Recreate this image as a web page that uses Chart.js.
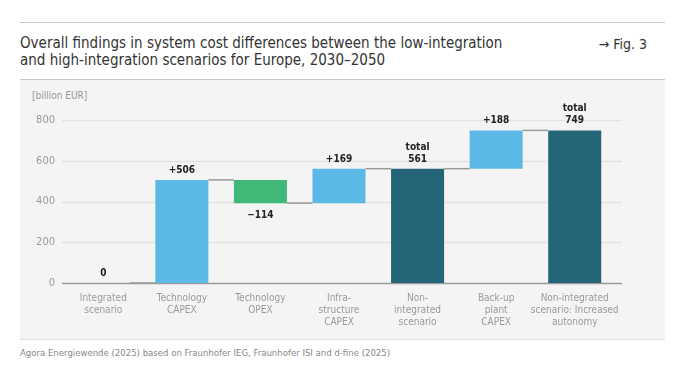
<!DOCTYPE html>
<html><head><meta charset="utf-8">
<script src="https://cdn.jsdelivr.net/npm/chart.js@4/dist/chart.umd.min.js"></script>
<style>
html,body{margin:0;padding:0;background:#fff;width:678px;height:381px;overflow:hidden;}
body{position:relative;font-family:'DejaVu Sans Condensed','Liberation Sans Narrow',sans-serif;}
.rule{position:absolute;left:20px;width:645px;height:1px;background:#c8c8c8;}
#panel{position:absolute;left:20px;top:80px;width:645px;height:259px;background:#f4f4f4;}
#title{position:absolute;left:20px;top:35px;font-size:15px;line-height:17px;color:#333;}
#fig{position:absolute;right:31px;top:36px;font-size:14px;line-height:17px;color:#333;}
#unit{position:absolute;left:32px;top:90px;font-size:10px;color:#999;}
#src{position:absolute;left:20px;top:347px;font-size:9.5px;color:#888;}
canvas{position:absolute;left:0;top:0;}
</style></head>
<body>
<div class="rule" style="top:22px"></div>
<div class="rule" style="top:79px"></div>
<div id="panel"></div>
<div class="rule" style="top:339px;background:#e0e0e0"></div>
<div id="title">Overall findings in system cost differences between the low-integration<br>and high-integration scenarios for Europe, 2030–2050</div>
<div id="fig">→ Fig. 3</div>
<div id="unit">[billion EUR]</div>
<div id="src">Agora Energiewende (2025) based on Fraunhofer IEG, Fraunhofer ISI and d-fine (2025)</div>
<canvas id="c" width="678" height="381"></canvas>
<script>
const categories = [
  ["Integrated","scenario"],
  ["Technology","CAPEX"],
  ["Technology","OPEX"],
  ["Infra-","structure","CAPEX"],
  ["Non-","integrated","scenario"],
  ["Back-up","plant","CAPEX"],
  ["Non-integrated","scenario: Increased","autonomy"]
];
const kinds = ["total","delta","delta","delta","total","delta","total"];
const values = [0, 506, -114, 169, 561, 188, 749];
const yTicks = [0, 200, 400, 600, 800];

const FONT = "'DejaVu Sans Condensed','Liberation Sans Narrow',sans-serif";
const COL_UP = "#5cb8e6", COL_DOWN = "#3fb878", COL_TOTAL = "#246677";

let running = 0;
const ranges = [], colors = [], labels = [], ends = [];
values.forEach((v, i) => {
  if (kinds[i] === "total") {
    ranges.push([0, v]); colors.push(COL_TOTAL);
    labels.push(v === 0 ? ["0"] : ["total", String(v)]);
    running = v;
  } else {
    ranges.push([running, running + v]);
    colors.push(v >= 0 ? COL_UP : COL_DOWN);
    labels.push([(v >= 0 ? "+" : "\u2212") + Math.abs(v)]);
    running += v;
  }
  ends.push(running);
});

const gridPlugin = {
  id: "grid",
  beforeDatasetsDraw(chart) {
    const {ctx, scales:{y}} = chart;
    ctx.save();
    yTicks.forEach(t => {
      const py = Math.round(y.getPixelForValue(t)) + 0.5;
      ctx.strokeStyle = t === 0 ? "#9a9a9a" : "#e3e3e3";
      ctx.lineWidth = 1.5;
      ctx.beginPath(); ctx.moveTo(62, py); ctx.lineTo(622, py); ctx.stroke();
    });
    ctx.restore();
  }
};

const connPlugin = {
  id: "conn",
  afterDatasetsDraw(chart) {
    const {ctx, scales:{y}} = chart;
    const meta = chart.getDatasetMeta(0);
    ctx.save();
    ctx.strokeStyle = "#9a9a9a"; ctx.lineWidth = 1.5;
    for (let i = 0; i < meta.data.length - 1; i++) {
      const a = meta.data[i], b = meta.data[i+1];
      const py = y.getPixelForValue(ends[i]);
      ctx.beginPath();
      ctx.moveTo(a.x + a.width/2, py); ctx.lineTo(b.x - b.width/2, py); ctx.stroke();
    }
    ctx.fillStyle = "#222";
    ctx.font = "bold 10px " + FONT;
    ctx.textAlign = "center";
    meta.data.forEach((bar, i) => {
      const lines = labels[i];
      const v = values[i];
      const lo = Math.min(ranges[i][0], ranges[i][1]);
      const hi = Math.max(ranges[i][0], ranges[i][1]);
      if (kinds[i] === "delta" && v < 0) {
        const py = y.getPixelForValue(lo);
        ctx.textBaseline = "top";
        ctx.fillText(lines[0], bar.x, py + 7);
      } else {
        const top = y.getPixelForValue(hi);
        ctx.textBaseline = "alphabetic";
        const n = lines.length;
        lines.forEach((t, k) => {
          ctx.fillText(t, bar.x, top - 7 - (n - 1 - k) * 12);
        });
      }
    });
    ctx.restore();
  }
};

new Chart(document.getElementById("c"), {
  type: "bar",
  data: {
    labels: categories,
    datasets: [{
      data: ranges,
      backgroundColor: colors,
      borderWidth: 0,
      barPercentage: 0.675,
      categoryPercentage: 1
    }]
  },
  options: {
    responsive: false,
    animation: false,
    layout: { padding: { left: 20, right: 64, top: 120, bottom: 38 } },
    plugins: { legend: { display: false }, tooltip: { enabled: false } },
    scales: {
      y: {
        min: 0, max: 800,
        afterFit(s) { s.width = 44; },
        afterBuildTicks(s) { s.ticks = yTicks.map(v => ({value: v})); },
        grid: { display: false, drawTicks: false },
        border: { display: false },
        ticks: { color: "#9a9a9a", padding: 9, font: { family: FONT, size: 11 } }
      },
      x: {
        afterFit(s) { s.height = 60; },
        grid: { display: false, drawTicks: false },
        border: { display: false },
        ticks: { color: "#9a9a9a", padding: 9, maxRotation: 0, autoSkip: false,
                 font: { family: FONT, size: 10, lineHeight: 1.2 } }
      }
    }
  },
  plugins: [gridPlugin, connPlugin]
});
</script>
</body></html>
